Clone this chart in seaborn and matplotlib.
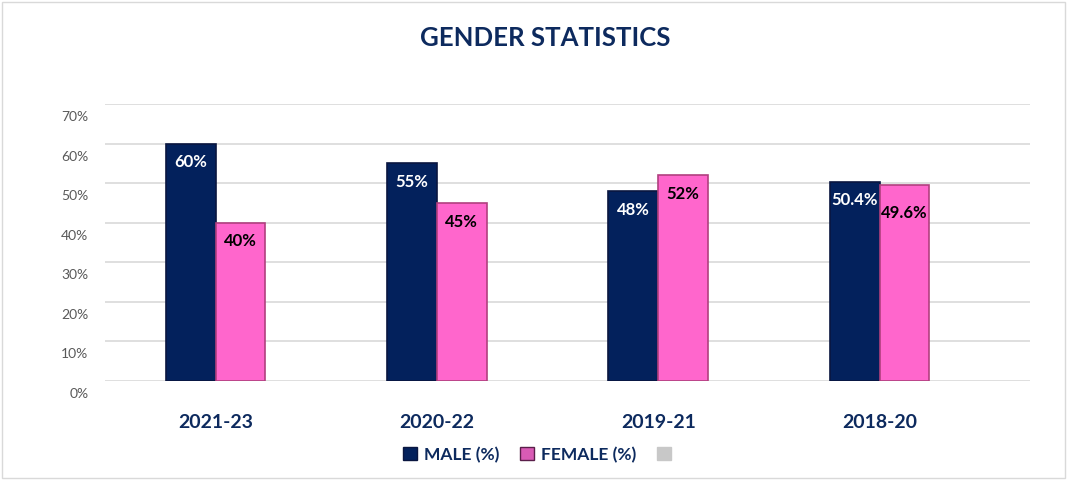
import pandas as pd
import seaborn as sns
import matplotlib.pyplot as plt
from matplotlib.ticker import PercentFormatter
from matplotlib.patches import Patch
from matplotlib.transforms import ScaledTranslation

periods = ["2021-23", "2020-22", "2019-21", "2018-20"]
male = [60, 55, 48, 50.4]
female = [40, 45, 52, 49.6]
male_labels = ["60%", "55%", "48%", "50.4%"]
female_labels = ["40%", "45%", "52%", "49.6%"]

NAVY = "#03215C"
PINK = "#FF66CC"
TITLE_COL = "#0D2A5E"

df = pd.DataFrame({
    "period": periods * 2,
    "value": male + female,
    "gender": ["MALE (%)"] * 4 + ["FEMALE (%)"] * 4,
})

sns.set_style("white")
plt.rcParams["font.family"] = ["Lato", "DejaVu Sans"]

fig = plt.figure(figsize=(10.7, 4.81), dpi=100)
ax = fig.add_axes([105 / 1070, 99 / 481, 925 / 1070, 277 / 481])

sns.barplot(
    data=df, x="period", y="value", hue="gender", order=periods,
    palette=[NAVY, PINK], width=0.45, ax=ax, legend=False,
    saturation=1,
)
for i, p in enumerate(ax.patches[:8]):
    p.set_edgecolor("#0A1640" if i < 4 else "#B0407F")
    p.set_linewidth(1.2)
    p.set_zorder(3)

ax.set_ylim(0, 70)
ax.set_xlim(-0.5, 3.68)
ax.set_yticks(range(0, 71, 10))
ax.yaxis.set_major_formatter(PercentFormatter(decimals=0))
ax.grid(axis="y", color="#D9D9D9", linewidth=1.2, zorder=0)
ax.set_axisbelow(True)
for s in ax.spines.values():
    s.set_visible(False)
ax.tick_params(axis="y", length=0, labelsize=10, labelcolor="#595959", pad=12)
ax.tick_params(axis="x", length=0, labelsize=14, labelcolor=TITLE_COL, pad=23)
for t in ax.get_xticklabels():
    t.set_fontweight("bold")
# front-face look: y tick labels sit a little lower than the back gridlines
shift = ScaledTranslation(0, -11 / 100, fig.dpi_scale_trans)
for t in ax.get_yticklabels():
    t.set_transform(t.get_transform() + shift)
ax.set_xlabel("")
ax.set_ylabel("")

# data labels inside the bar tops
drop_f = [4, 4, 4, 11]
for i in range(4):
    ax.annotate(male_labels[i], (i - 0.1125, male[i]), xytext=(0, -7),
                textcoords="offset points", ha="center", va="top",
                fontsize=12, fontweight="bold", color="white", zorder=5)
    ax.annotate(female_labels[i], (i + 0.1125, female[i]), xytext=(0, -drop_f[i] - 3),
                textcoords="offset points", ha="center", va="top",
                fontsize=12, fontweight="bold", color="black", zorder=5)

fig.text(0.51, 0.92, "GENDER STATISTICS", ha="center", va="center",
         fontsize=18.5, fontweight="bold", color=TITLE_COL)

handles = [
    Patch(facecolor=NAVY, edgecolor="#0A1640"),
    Patch(facecolor="#D95BB5", edgecolor="#5A1F4A"),
    Patch(facecolor="#C8C8C8", edgecolor="#C8C8C8"),
]
leg = fig.legend(handles, ["MALE (%)", "FEMALE (%)", ""], loc="center",
                 bbox_to_anchor=(0.505, 0.053), ncol=3, frameon=False,
                 handlelength=0.8, handleheight=0.8, handletextpad=0.4,
                 columnspacing=1.2, prop={"weight": "bold", "size": 12.5})
for t in leg.get_texts():
    t.set_color(TITLE_COL)

fig.patches.append(plt.Rectangle((0.002, 0.004), 0.993, 0.99, transform=fig.transFigure,
                                 fill=False, edgecolor="#D9D9D9", linewidth=1))

fig.savefig("out.png", dpi=100)
